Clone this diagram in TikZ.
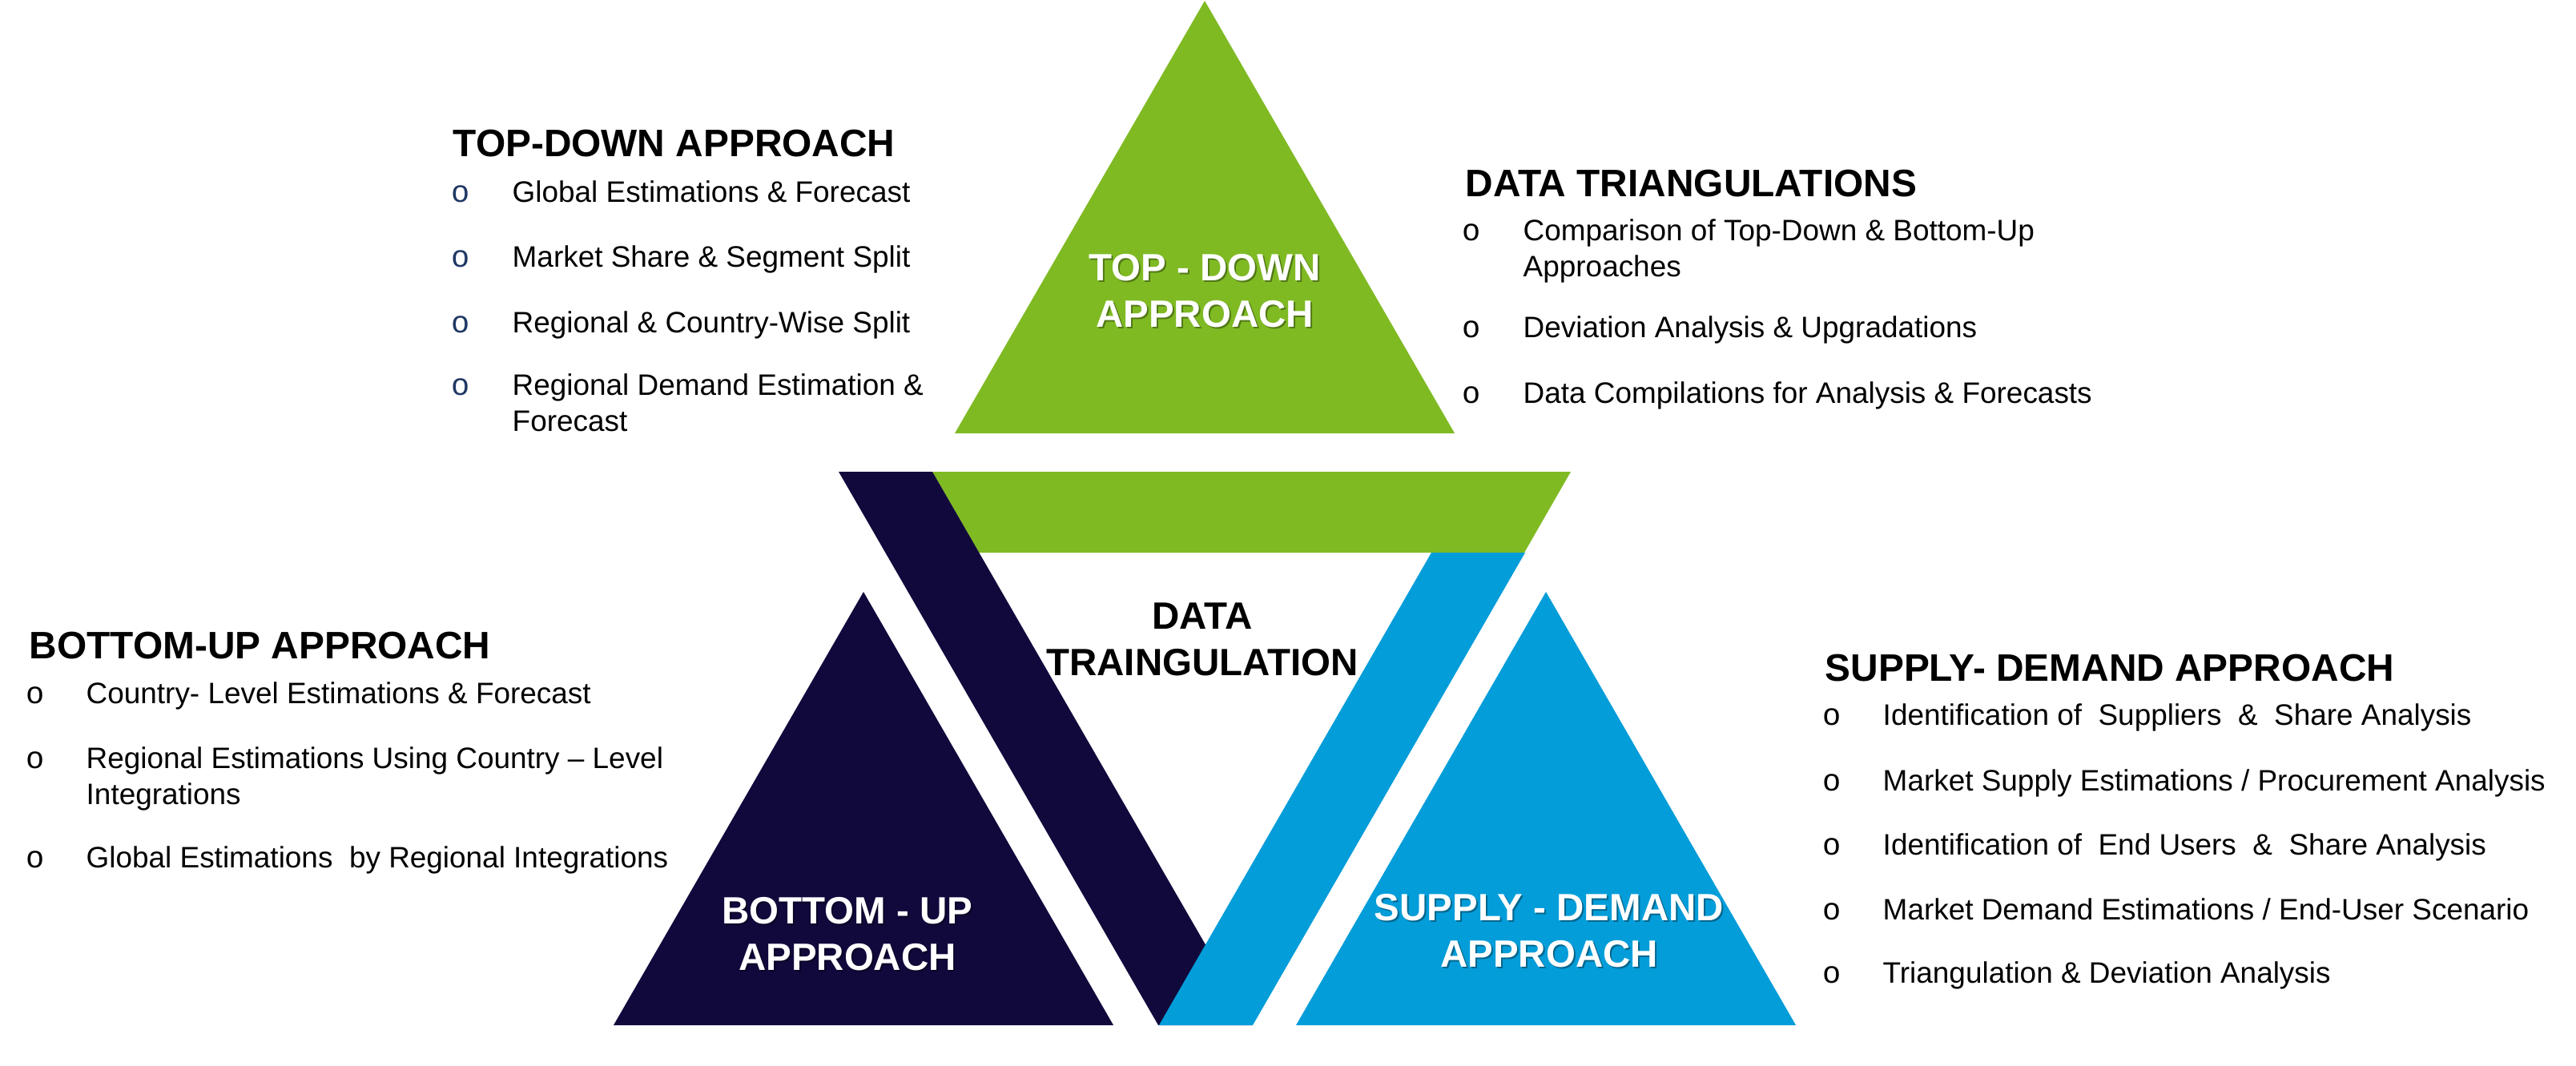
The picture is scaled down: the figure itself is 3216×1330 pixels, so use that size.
\documentclass[tikz,border=0pt]{standalone}
\usepackage{fontspec}
\setmainfont{Liberation Sans}
\newfontfamily\bulletfont{Liberation Mono}
\definecolor{tdgreen}{RGB}{127,186,35}
\definecolor{bunavy}{RGB}{17,9,60}
\definecolor{sdblue}{RGB}{3,157,217}
\definecolor{dotnavy}{RGB}{31,56,100}
\newcommand\tworows[2]{\begin{tabular}[t]{@{}#1@{}}#2\end{tabular}}
\tikzset{
  head/.style={anchor=base west, inner sep=0pt, font=\bfseries\fontsize{13.6}{16.5}\selectfont},
  entry/.style={anchor=base west, inner sep=0pt, font=\fontsize{10.5}{12.8}\selectfont},
  dot/.style={anchor=base, inner sep=0pt, font=\bulletfont\fontsize{11}{12.8}\selectfont},
  tritext/.style={anchor=base, inner sep=0pt, text=white, font=\bfseries\fontsize{13.5}{16.5}\selectfont},
  trishadow/.style={tritext, text=black, text opacity=0.35},
  midtext/.style={tritext, text=black}
}

\begin{document}
\begin{tikzpicture}[x=0.01cm,y=-0.01cm]
			%%%%% START %%%%%
			\useasboundingbox (0,0) rectangle (3216,1330);
			
			\fill[tdgreen] (1504,1) -- (1816,541) -- (1192,541) -- cycle;
			\fill[tdgreen] (1164,589) -- (1961,589) -- (1903,690) -- (1222,690) -- cycle;
			\fill[bunavy] (1047,589) -- (1164,589) -- (1563,1280) -- (1446,1280) -- cycle;
			\fill[sdblue] (1787,690) -- (1904,690) -- (1564,1280) -- (1447,1280) -- cycle;
			\fill[bunavy] (1078,739) -- (1390,1280) -- (766,1280) -- cycle;
			\fill[sdblue] (1930,739) -- (2242,1280) -- (1618,1280) -- cycle;
			
			\node[trishadow] (tdS) at (1506,352) {\tworows{c}{TOP - DOWN\\APPROACH}};
			\node[tritext] (td) at (1504,350) {\tworows{c}{TOP - DOWN\\APPROACH}};
			\node[trishadow] (buS) at (1060,1155) {\tworows{c}{BOTTOM - UP\\APPROACH}};
			\node[tritext] (bu) at (1058,1153) {\tworows{c}{BOTTOM - UP\\APPROACH}};
			\node[trishadow] (sdS) at (1936,1151) {\tworows{c}{SUPPLY - DEMAND\\APPROACH}};
			\node[tritext] (sd) at (1934,1149) {\tworows{c}{SUPPLY - DEMAND\\APPROACH}};
			\node[midtext] (dt) at (1501,785) {\tworows{c}{DATA\\TRAINGULATION}};
			
			% top-down
			\node[head] (tdH) at (565,195) {TOP-DOWN APPROACH};
			\node[dot, text=dotnavy] (tdD1) at (575,252) {o};
			\node[entry] (tdE1) at (639,252) {Global Estimations \& Forecast};
			\node[dot, text=dotnavy] (tdD2) at (575,333) {o};
			\node[entry] (tdE2) at (639,333) {Market Share \& Segment Split};
			\node[dot, text=dotnavy] (tdD3) at (575,415) {o};
			\node[entry] (tdE3) at (639,415) {Regional \& Country-Wise Split};
			\node[dot, text=dotnavy] (tdD4) at (575,493) {o};
			\node[entry] (tdE4) at (639,493) {\tworows{l}{Regional Demand Estimation \&\\Forecast}};
			
			% data triangulations
			\node[head] (dtH) at (1829,245) {DATA TRIANGULATIONS};
			\node[dot] (dtD1) at (1837,300) {o};
			\node[entry] (dtE1) at (1901,300) {\tworows{l}{Comparison of Top-Down \& Bottom-Up\\Approaches}};
			\node[dot] (dtD2) at (1837,421) {o};
			\node[entry] (dtE2) at (1901,421) {Deviation Analysis \& Upgradations};
			\node[dot] (dtD3) at (1837,503) {o};
			\node[entry] (dtE3) at (1901,503) {Data Compilations for Analysis \& Forecasts};
			
			% bottom-up
			\node[head] (buH) at (36,822) {BOTTOM-UP APPROACH};
			\node[dot] (buD1) at (44,878) {o};
			\node[entry] (buE1) at (107,878) {Country- Level Estimations \& Forecast};
			\node[dot] (buD2) at (44,959) {o};
			\node[entry] (buE2) at (107,959) {\tworows{l}{Regional Estimations Using Country -- Level\\Integrations}};
			\node[dot] (buD3) at (44,1083) {o};
			\node[entry] (buE3) at (107,1083) {Global Estimations~ by Regional Integrations};
			
			% supply-demand
			\node[head] (sdH) at (2278,850) {SUPPLY- DEMAND APPROACH};
			\node[dot] (sdD1) at (2287,905) {o};
			\node[entry] (sdE1) at (2350,905) {Identification of~ Suppliers~ \&~ Share Analysis};
			\node[dot] (sdD2) at (2287,987) {o};
			\node[entry] (sdE2) at (2350,987) {Market Supply Estimations / Procurement Analysis};
			\node[dot] (sdD3) at (2287,1067) {o};
			\node[entry] (sdE3) at (2350,1067) {Identification of~ End Users~ \&~ Share Analysis};
			\node[dot] (sdD4) at (2287,1148) {o};
			\node[entry] (sdE4) at (2350,1148) {Market Demand Estimations / End-User Scenario};
			\node[dot] (sdD5) at (2287,1227) {o};
			\node[entry] (sdE5) at (2350,1227) {Triangulation \& Deviation Analysis};
			
			%%%%% END %%%%%
\end{tikzpicture}
\end{document}
